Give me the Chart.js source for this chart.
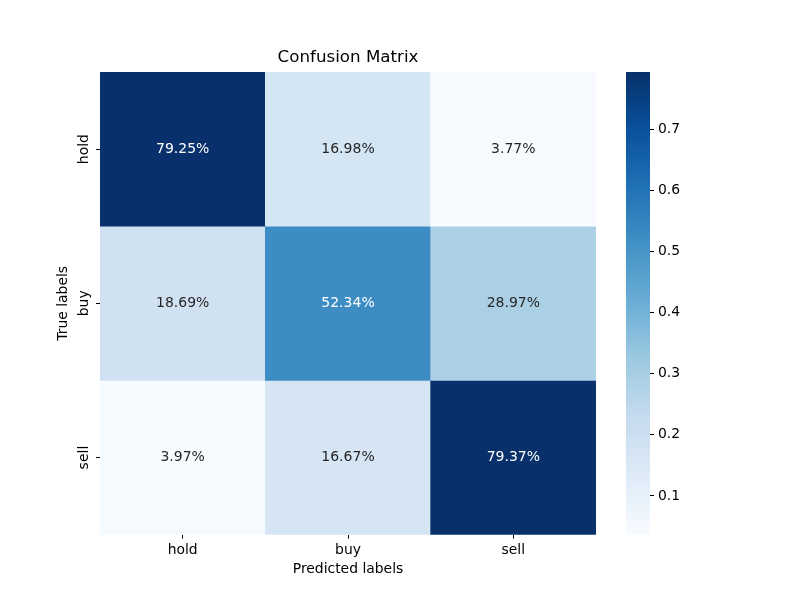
<!DOCTYPE html>
<html>
<head>
<meta charset="utf-8">
<script src="https://cdn.jsdelivr.net/npm/chart.js@4"></script>
<style>
  body { margin: 0; background: #fff; }
  #wrap { position: relative; width: 800px; height: 600px; }
  #main { position: absolute; left: 0; top: 0; }
  #bar { position: absolute; left: 600px; top: 0; }
</style>
</head>
<body>
<div id="wrap">
  <canvas id="main" width="610" height="600"></canvas>
  <canvas id="bar" width="200" height="600"></canvas>
</div>
<script>
const predLabels = ["hold", "buy", "sell"];
const trueLabels = ["hold", "buy", "sell"];
const rowHold = [0.7925, 0.1698, 0.0377];
const rowBuy = [0.1869, 0.5234, 0.2897];
const rowSell = [0.0397, 0.1667, 0.7937];
const rows = [rowHold, rowBuy, rowSell];
const cbarTicks = [0.1, 0.2, 0.3, 0.4, 0.5, 0.6, 0.7];

const vmin = Math.min(...rows.flat());
const vmax = Math.max(...rows.flat());

// matplotlib "Blues"
const blues = ["#f7fbff", "#deebf7", "#c6dbef", "#9ecae1", "#6baed6", "#4292c6", "#2171b5", "#08519c", "#08306b"];

function hexRgb(h) {
  return [parseInt(h.slice(1, 3), 16), parseInt(h.slice(3, 5), 16), parseInt(h.slice(5, 7), 16)];
}

function cmap(t) {
  t = Math.max(0, Math.min(1, t));
  let p = t * (blues.length - 1);
  let i = Math.min(Math.floor(p), blues.length - 2);
  let f = p - i;
  let a = hexRgb(blues[i]), b = hexRgb(blues[i + 1]);
  return a.map((v, k) => Math.round(v + (b[k] - v) * f));
}

function colorFor(v) {
  let c = cmap((v - vmin) / (vmax - vmin));
  return `rgb(${c[0]},${c[1]},${c[2]})`;
}

function isDark(v) {
  let c = cmap((v - vmin) / (vmax - vmin)).map(x => {
    x = x / 255;
    return x <= 0.03928 ? x / 12.92 : Math.pow((x + 0.055) / 1.055, 2.4);
  });
  let lum = 0.2126 * c[0] + 0.7152 * c[1] + 0.0722 * c[2];
  return lum <= 0.408;
}

const font = "DejaVu Sans";
Chart.defaults.font.family = font;
Chart.defaults.color = "#000";

// cell annotations + rotated y tick labels
const annot = {
  id: "annot",
  afterDatasetsDraw(chart) {
    let c = chart.ctx;
    c.save();
    c.font = `14px "${font}"`;
    c.textAlign = "center";
    c.textBaseline = "middle";
    chart.data.datasets.forEach((ds, r) => {
      chart.getDatasetMeta(r).data.forEach((el, j) => {
        let v = rows[r][j];
        let p = el.getCenterPoint();
        c.fillStyle = isDark(v) ? "#ffffff" : "#262626";
        c.fillText((v * 100).toFixed(2) + "%", p.x, p.y);
      });
    });
    let ys = chart.scales.y;
    c.fillStyle = "#000";
    ys.ticks.forEach((t, i) => {
      let y = ys.getPixelForValue(t.value);
      c.save();
      c.translate(ys.right - 16, y);
      c.rotate(-Math.PI / 2);
      c.fillText(trueLabels[i], 0, 0);
      c.restore();
    });
    c.restore();
  }
};

new Chart(document.getElementById("main"), {
  type: "bar",
  data: {
    labels: predLabels,
    datasets: rows.map((row, r) => ({
      label: trueLabels[r],
      data: row.map(() => [r, r + 1]),
      backgroundColor: row.map(colorFor),
      borderWidth: 0,
      barPercentage: 1,
      categoryPercentage: 1,
      grouped: false
    }))
  },
  options: {
    responsive: false,
    animation: false,
    layout: { padding: { top: 48, left: 0, right: 14, bottom: 0 } },
    plugins: {
      legend: { display: false },
      tooltip: { enabled: false },
      title: {
        display: true,
        text: "Confusion Matrix",
        fullSize: false,
        color: "#000",
        font: { size: 16.7, weight: "normal" },
        padding: { top: 0, bottom: 4 }
      }
    },
    scales: {
      x: {
        grid: { display: true, offset: false, drawOnChartArea: false, tickLength: 4, color: "#000" },
        border: { display: false },
        ticks: { font: { size: 13.9 }, padding: 3, color: "#000" },
        title: { display: true, text: "Predicted labels", font: { size: 13.9 }, padding: { top: 0, bottom: 22 }, color: "#000" }
      },
      y: {
        type: "linear",
        min: 0,
        max: 3,
        reverse: true,
        grid: { display: true, drawOnChartArea: false, tickLength: 4, color: "#000" },
        border: { display: false },
        afterBuildTicks: s => { s.ticks = trueLabels.map((l, i) => ({ value: i + 0.5 })); },
        afterFit: s => { s.width = 100; },
        ticks: { display: false },
        title: { display: true, text: "True labels", font: { size: 13.9 }, padding: { top: 55, bottom: 4 }, color: "#000" }
      }
    }
  },
  plugins: [annot]
});

new Chart(document.getElementById("bar"), {
  type: "bar",
  data: {
    labels: ["c"],
    datasets: [{
      data: [[vmin, vmax]],
      borderWidth: 0,
      barPercentage: 1,
      categoryPercentage: 1,
      backgroundColor: ctx => {
        let area = ctx.chart.chartArea;
        if (!area) return "#ccc";
        let g = ctx.chart.ctx.createLinearGradient(0, area.bottom, 0, area.top);
        blues.forEach((b, i) => g.addColorStop(i / (blues.length - 1), b));
        return g;
      }
    }]
  },
  options: {
    responsive: false,
    animation: false,
    layout: { padding: { top: 72, left: 26, right: 90, bottom: 66 } },
    plugins: { legend: { display: false }, tooltip: { enabled: false } },
    scales: {
      x: { display: false },
      y: {
        position: "right",
        min: vmin,
        max: vmax,
        grid: { display: true, drawOnChartArea: false, tickLength: 4, color: "#000" },
        border: { display: false },
        afterBuildTicks: s => { s.ticks = cbarTicks.map(v => ({ value: v })); },
        afterFit: s => { s.width = 60; },
        ticks: { font: { size: 13.9 }, padding: 4, color: "#000", callback: v => v.toFixed(1) }
      }
    }
  }
});
</script>
</body>
</html>
